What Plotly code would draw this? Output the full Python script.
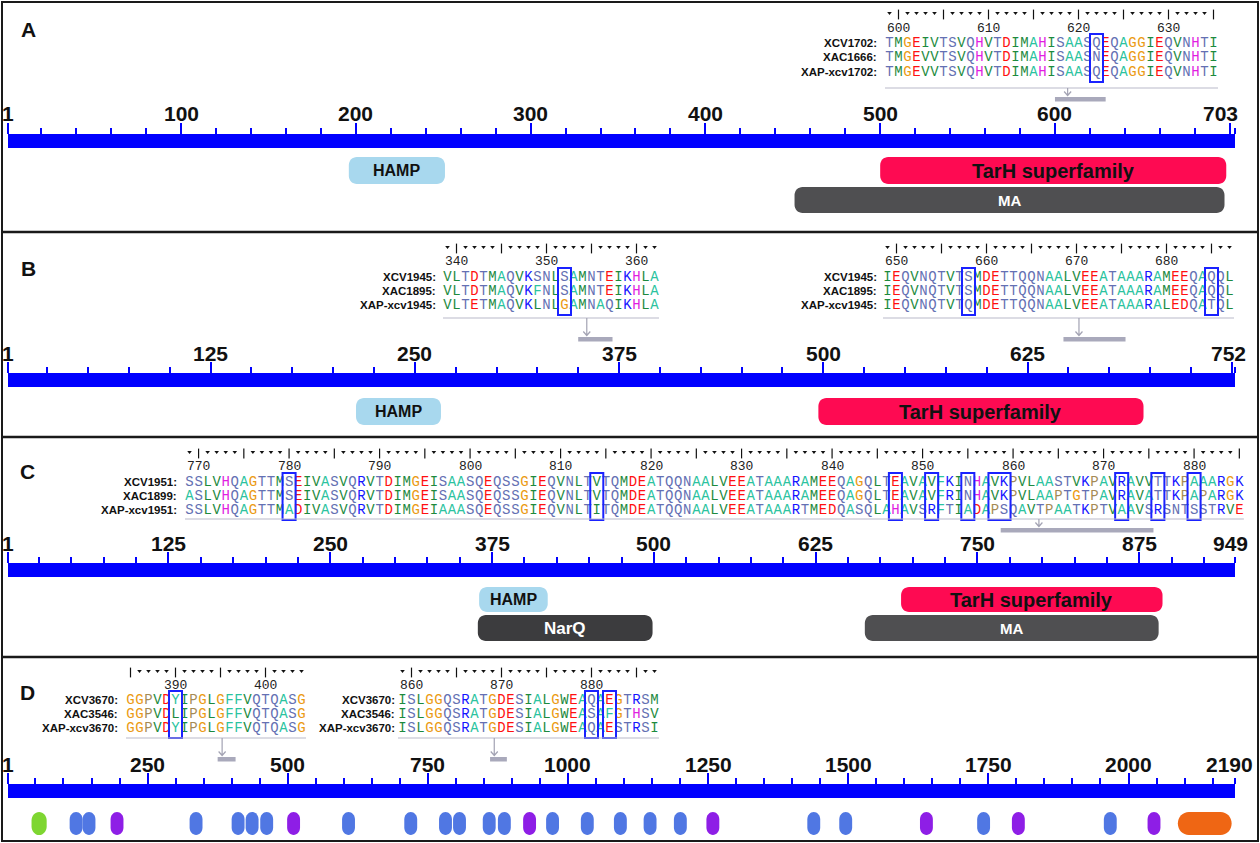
import plotly.graph_objects as go

W, H = 1260, 843

# ======================= DATA =======================
# ---- panel A ----
A_len = 703
A_tick_labels = [1, 100, 200, 300, 400, 500, 600, 703]
A_minor_step = 20
A_dom_names = ["HAMP", "TarH superfamily", "MA"]
A_dom_start = [196, 500, 451]
A_dom_end = [251, 698, 697]
A_seq_names = ["XCV1702:", "XAC1666:", "XAP-xcv1702:"]
A_aln_starts = [600]
A_aln_seqs = [["TMGEIVTSVQHVTDIMAHISAASQEQAGGIEQVNHTI",
               "TMGEVVTSVQHVTDIMAHISAASNEQAGGIEQVNHTI",
               "TMGEVVTSVQHVTDIMAHISAASQEQAGGIEQVNHTI"]]
A_aln_marked = [[(623, 623)]]
A_aln_regions = [(600, 629)]

# ---- panel B ----
B_len = 752
B_tick_labels = [1, 125, 250, 375, 500, 625, 752]
B_minor_step = 25
B_dom_names = ["HAMP", "TarH superfamily"]
B_dom_start = [214, 497]
B_dom_end = [266, 696]
B_seq_names = ["XCV1945:", "XAC1895:", "XAP-xcv1945:"]
B_aln_starts = [340, 650]
B_aln_seqs = [["VLTDTMAQVKSNLSAMNTEIKHLA",
               "VLTDTMAQVKFNLSAMNTEIKHLA",
               "VLTETMAQVKLNLGAMNAQIKHLA"],
              ["IEQVNQTVTSMDETTQQNAALVEEATAAARAMEEQAQQL",
               "IEQVNQTVTSMDETTQQNAALVEEATAAARAMEEQAQQL",
               "IEQVNQTVTQMDETTQQNAALVEEATAAARALEDQATQL"]]
B_aln_marked = [[(353, 353)], [(659, 659), (686, 686)]]
B_aln_regions = [(350, 371), (647, 685)]

# ---- panel C ----
C_len = 949
C_tick_labels = [1, 125, 250, 375, 500, 625, 750, 875, 949]
C_minor_step = 25
C_dom_names = ["HAMP", "TarH superfamily", "NarQ", "MA"]
C_dom_start = [365, 691, 364, 663]
C_dom_end = [418, 893, 499, 890]
C_seq_names = ["XCV1951:", "XAC1899:", "XAP-xcv1951:"]
C_aln_starts = [770]
C_aln_seqs = [["SSLVHQAGTTMSEIVASVQRVTDIMGEISAASQEQSSGIEQVNLTVTQMDEATQQNAALVEEATAAARAMEEQAGQLTEAVAVFKINHAVKPVLAASTVKPAVRAVVTTKPAAARGK",
               "ASLVHQAGTTMSEIVASVQRVTDIMGEISAASQEQSSGIEQVNLTVTQMDEATQQNAALVEEATAAARAMEEQAGQLTEAVAVFRINHAVKPVLAAPTGTPAVRAVATTKPAPARGK",
               "SSLVHQAGTTMADIVASVQRVTDIMGEIAAASQEQSSGIEQVNLTITQMDEATQQNAALVEEATAAARTMEDQASQLAHAVSRFTIADAPSQAVTPAATKPTVAAVSRSNTSSTRVE"]]
C_aln_marked = [[(781, 781), (815, 815), (848, 848), (852, 852), (856, 856),
                 (859, 860), (873, 873), (877, 877), (881, 881)]]
C_aln_regions = [(768, 886)]

# ---- panel D ----
D_len = 2190
D_tick_labels = [1, 250, 500, 750, 1000, 1250, 1500, 1750, 2000, 2190]
D_minor_step = 50
D_dom_names = ["dom1", "dom2", "dom2", "dom3", "dom2", "dom2", "dom2", "dom2", "dom3",
               "dom2", "dom2", "dom2", "dom2", "dom2", "dom2", "dom3", "dom2", "dom2",
               "dom2", "dom2", "dom2", "dom3", "dom2", "dom2", "dom3", "dom2", "dom3",
               "dom2", "dom3", "dom4"]
D_dom_start = [43, 111, 134, 184, 325, 400, 425, 451, 499, 597, 708, 770, 795, 848, 875,
               920, 961, 1023, 1082, 1135, 1189, 1247, 1427, 1484, 1628, 1730, 1792,
               1956, 2034, 2088]
D_dom_end = [70, 134, 157, 207, 348, 423, 448, 474, 522, 620, 731, 793, 818, 871, 898,
             943, 984, 1046, 1105, 1158, 1212, 1270, 1450, 1507, 1651, 1753, 1815,
             1979, 2057, 2184]
D_seq_names = ["XCV3670:", "XAC3546:", "XAP-xcv3670:"]
D_aln_starts = [386, 860]
D_aln_seqs = [["GGPVDYIPGLGFFVQTQASG",
               "GGPVDLIPGLGFFVQTQASG",
               "GGPVDYIPGLGFFVQTQASG"],
              ["ISLGGQSRATGDESIALGWEAQAEGTRSM",
               "ISLGGQSRATGDESIALGWEASAFGTHSV",
               "ISLGGQSRATGDESIALGWEAQAESTRSI"]]
D_aln_marked = [[(391, 391)], [(881, 881), (883, 883)]]
D_aln_regions = [(375, 407), (861, 891)]

# ======================= STYLE / LAYOUT =======================
BAR_PX0, BAR_PX1 = 8, 1235
BAR_H = 14
BLUE = "#0000ff"
LABEL_FONT = "Liberation Sans, Arial, sans-serif"
MONO = "Liberation Mono, DejaVu Sans Mono, monospace"

AA_COLOR = {}
for c in "AFY":
    AA_COLOR[c] = "#2cc3a0"
for c in "ILMVW":
    AA_COLOR[c] = "#1d8a3e"
for c in "STNQ":
    AA_COLOR[c] = "#6470b3"
for c in "KR":
    AA_COLOR[c] = "#1414ff"
for c in "DE":
    AA_COLOR[c] = "#ff1010"
AA_COLOR["G"] = "#eb9a12"
AA_COLOR["H"] = "#e11ee1"
AA_COLOR["P"] = "#a58a55"
AA_COLOR["C"] = "#e07070"

DOM_STYLE = {  # fill, text colour, font size, lane
    "HAMP": ("#a8d8ee", "#111111", 16, 0),
    "TarH superfamily": ("#fe0a52", "#111111", 20, 0),
    "MA": ("#4f4f51", "#ffffff", 15, 1),
    "NarQ": ("#3c3c3e", "#ffffff", 17, 1),
    "dom1": ("#7ed631", None, 0, 0),
    "dom2": ("#5077e3", None, 0, 0),
    "dom3": ("#8e1ee6", None, 0, 0),
    "dom4": ("#ef6614", None, 0, 0),
}

panels = [
    dict(letter="A", length=A_len, ticks=A_tick_labels, minor=A_minor_step,
         dnames=A_dom_names, dstart=A_dom_start, dend=A_dom_end,
         snames=A_seq_names, astarts=A_aln_starts, aseqs=A_aln_seqs,
         amarked=A_aln_marked, aregions=A_aln_regions,
         letter_xy=(28, 29), bar_top=134, label_y=113,
         lanes=[(157, 184), (187, 213)], last_shift=5,
         aln_x0=[885], aln_lab_r=[879], rows=[43, 57, 72], ruler_y=14,
         num_y=28, line_y=88, gbar_y=97, cw=9.0),
    dict(letter="B", length=B_len, ticks=B_tick_labels, minor=B_minor_step,
         dnames=B_dom_names, dstart=B_dom_start, dend=B_dom_end,
         snames=B_seq_names, astarts=B_aln_starts, aseqs=B_aln_seqs,
         amarked=B_aln_marked, aregions=B_aln_regions,
         letter_xy=(28, 268), bar_top=373, label_y=353,
         lanes=[(398, 425)], last_shift=13,
         aln_x0=[443, 883], aln_lab_r=[438, 879], rows=[277, 291, 305], ruler_y=248,
         num_y=261, line_y=318, gbar_y=337, cw=9.0),
    dict(letter="C", length=C_len, ticks=C_tick_labels, minor=C_minor_step,
         dnames=C_dom_names, dstart=C_dom_start, dend=C_dom_end,
         snames=C_seq_names, astarts=C_aln_starts, aseqs=C_aln_seqs,
         amarked=C_aln_marked, aregions=C_aln_regions,
         letter_xy=(27, 471), bar_top=563, label_y=543,
         lanes=[(587, 612), (615, 641)], last_shift=15,
         aln_x0=[185], aln_lab_r=[179], rows=[482, 496, 510], ruler_y=453,
         num_y=466, line_y=519, gbar_y=528, cw=9.05),
    dict(letter="D", length=D_len, ticks=D_tick_labels, minor=D_minor_step,
         dnames=D_dom_names, dstart=D_dom_start, dend=D_dom_end,
         snames=D_seq_names, astarts=D_aln_starts, aseqs=D_aln_seqs,
         amarked=D_aln_marked, aregions=D_aln_regions,
         letter_xy=(27, 692), bar_top=784, label_y=764,
         lanes=[(812, 835)], last_shift=20,
         aln_x0=[126, 398], aln_lab_r=[120, 397], rows=[700, 714, 728], ruler_y=672,
         num_y=685, line_y=738, gbar_y=757, cw=9.0),
]


def rounded_path(x0, x1, y0, y1, rx, ry):
    k = 0.5523
    return (f"M{x0 + rx},{y0} L{x1 - rx},{y0} "
            f"C{x1 - rx + k * rx},{y0} {x1},{y0 + ry - k * ry} {x1},{y0 + ry} "
            f"L{x1},{y1 - ry} "
            f"C{x1},{y1 - ry + k * ry} {x1 - rx + k * rx},{y1} {x1 - rx},{y1} "
            f"L{x0 + rx},{y1} "
            f"C{x0 + rx - k * rx},{y1} {x0},{y1 - ry + k * ry} {x0},{y1 - ry} "
            f"L{x0},{y0 + ry} "
            f"C{x0},{y0 + ry - k * ry} {x0 + rx - k * rx},{y0} {x0 + rx},{y0} Z")


fig = go.Figure()
shapes = []
annotations = []
layout_axes = {}

PIX = "x5"  # pixel layout axis

for i, p in enumerate(panels):
    axkey = "xaxis" if i == 0 else f"xaxis{i + 1}"
    xref = "x" if i == 0 else f"x{i + 1}"
    N = p["length"]
    ppr = (BAR_PX1 - BAR_PX0) / (N - 1)  # pixels per residue
    step_major = p["ticks"][1]
    majors = [1] + list(range(step_major, N, step_major))
    minors = [v for v in range(p["minor"], N, p["minor"]) if v % step_major != 0] + [N]
    top = p["bar_top"]
    layout_axes[axkey] = dict(
        domain=[BAR_PX0 / W, BAR_PX1 / W], range=[1, N], anchor="free",
        position=1 - top / H, side="top", showgrid=False, zeroline=False,
        showline=False, showticklabels=False, ticks="outside", tickmode="array",
        tickvals=majors, ticklen=11, tickwidth=2, tickcolor=BLUE, fixedrange=True,
        minor=dict(tickmode="array", tickvals=minors, ticks="outside", ticklen=6,
                   tickwidth=2, tickcolor=BLUE, showgrid=False))

    # blue protein bar
    fig.add_trace(go.Scatter(
        x=[1, N, N, 1, 1], y=[top, top, top + BAR_H, top + BAR_H, top],
        mode="lines", fill="toself", fillcolor=BLUE, line=dict(width=0, color=BLUE),
        xaxis=xref, yaxis="y", hoverinfo="skip", showlegend=False))

    # axis numbers
    for j, v in enumerate(p["ticks"]):
        last = j == len(p["ticks"]) - 1
        annotations.append(dict(
            x=v, xref=xref, y=p["label_y"], yref="y", text=f"<b>{v}</b>",
            showarrow=False, xanchor="right" if last else "center", yanchor="middle",
            xshift=p["last_shift"] if last else 0,
            font=dict(family=LABEL_FONT, size=21, color="#111111")))

    # domains
    for name, s, e in zip(p["dnames"], p["dstart"], p["dend"]):
        fill, tcol, fsize, lane = DOM_STYLE[name]
        y0, y1 = p["lanes"][lane]
        if tcol is None:
            wpx = (e - s) * ppr
            rpx = min(wpx / 2, 11)
            ry = min(rpx + 1, (y1 - y0) / 2)
        else:
            rpx, ry = 8, 8
        rx = rpx / ppr
        shapes.append(dict(type="path", xref=xref, yref="y",
                           path=rounded_path(s, e, y0, y1, rx, ry),
                           fillcolor=fill, line=dict(width=0), layer="above"))
        if tcol is not None:
            annotations.append(dict(
                x=(s + e) / 2, xref=xref, y=(y0 + y1) / 2, yref="y",
                text=f"<b>{name}</b>", showarrow=False, xanchor="center",
                yanchor="middle", font=dict(family=LABEL_FONT, size=fsize, color=tcol)))

    # panel letter
    lx, ly = p["letter_xy"]
    annotations.append(dict(x=lx, xref=PIX, y=ly, yref="y", text=f"<b>{p['letter']}</b>",
                            showarrow=False, xanchor="center", yanchor="middle",
                            font=dict(family=LABEL_FONT, size=21, color="#111111")))

    # alignments
    cw = p["cw"]
    for a, start in enumerate(p["astarts"]):
        seqs = p["aseqs"][a]
        x0 = p["aln_x0"][a]
        n = len(seqs[0])
        for r, seq in enumerate(seqs):
            yy = p["rows"][r]
            annotations.append(dict(
                x=p["aln_lab_r"][a], xref=PIX, y=yy, yref="y",
                text=f"<b>{p['snames'][r]}</b>", showarrow=False, xanchor="right",
                yanchor="middle", font=dict(family=LABEL_FONT, size=11.5, color="#111111")))
            fig.add_trace(go.Scatter(
                x=[x0 + cw * (k + 0.5) for k in range(len(seq))], y=[yy] * len(seq),
                mode="text", text=list(seq),
                textfont=dict(family=MONO, size=14, color=[AA_COLOR.get(ch, "#444") for ch in seq]),
                textposition="middle center", xaxis=PIX, yaxis="y",
                hoverinfo="skip", showlegend=False))
        big = [k for k in range(n) if (start + k) % 5 == 1]
        small = [k for k in range(n) if (start + k) % 5 != 1]
        fig.add_trace(go.Scatter(
            x=[x0 + cw * (k + 0.5) for k in big], y=[p["ruler_y"] + 0.5] * len(big),
            mode="markers", marker=dict(symbol="line-ns", size=7,
                                        line=dict(width=1.2, color="#111111")),
            xaxis=PIX, yaxis="y", hoverinfo="skip", showlegend=False))
        fig.add_trace(go.Scatter(
            x=[x0 + cw * (k + 0.5) for k in small], y=[p["ruler_y"] - 1] * len(small),
            mode="markers", marker=dict(symbol="triangle-down", size=4, color="#111111",
                                        line=dict(width=0)),
            xaxis=PIX, yaxis="y", hoverinfo="skip", showlegend=False))
        for k in range(n):
            if (start + k) % 10 == 0:
                annotations.append(dict(
                    x=x0 + cw * k, xref=PIX, y=p["num_y"], yref="y", text=str(start + k),
                    showarrow=False, xanchor="left", yanchor="middle",
                    font=dict(family=MONO, size=13, color="#222222")))
        for (m0, m1) in p["amarked"][a]:
            shapes.append(dict(
                type="rect", xref=PIX, yref="y",
                x0=x0 + cw * (m0 - start) - 2, x1=x0 + cw * (m1 - start + 1) + 2,
                y0=p["rows"][0] - 9, y1=p["rows"][-1] + 10,
                line=dict(color="#1a22ff", width=2), fillcolor="rgba(0,0,0,0)",
                layer="above"))
        shapes.append(dict(type="line", xref=PIX, yref="y", x0=x0, x1=x0 + cw * n,
                           y0=p["line_y"], y1=p["line_y"],
                           line=dict(color="#b9b9c9", width=1.2)))
        rs, re_ = p["aregions"][a]
        gy = p["gbar_y"]
        shapes.append(dict(type="rect", xref=xref, yref="y", x0=rs, x1=re_,
                           y0=gy, y1=gy + 4.5, fillcolor="#a9a9bb", line=dict(width=0)))
        xa = rs + 0.25 * (re_ - rs)
        dx = 3.5 / ppr
        y_end = gy - 1.5
        shapes.append(dict(type="path", xref=xref, yref="y",
                           path=(f"M{xa},{p['line_y']} L{xa},{y_end} "
                                 f"M{xa - dx},{y_end - 4} L{xa},{y_end} L{xa + dx},{y_end - 4}"),
                           line=dict(color="#a3a3b3", width=1.2)))

# panel frames
shapes.append(dict(type="rect", xref=PIX, yref="y", x0=2, x1=1258, y0=2, y1=841,
                   line=dict(color="#1a1a1a", width=2), fillcolor="rgba(0,0,0,0)"))
for ysep in [232, 437, 657]:
    shapes.append(dict(type="line", xref=PIX, yref="y", x0=2, x1=1258, y0=ysep, y1=ysep,
                       line=dict(color="#1a1a1a", width=2.5)))

fig.update_layout(
    width=W, height=H, margin=dict(l=0, r=0, t=0, b=0),
    paper_bgcolor="white", plot_bgcolor="rgba(0,0,0,0)",
    showlegend=False, shapes=shapes, annotations=annotations,
    xaxis5=dict(domain=[0, 1], range=[0, W], visible=False, fixedrange=True, anchor="y"),
    yaxis=dict(domain=[0, 1], range=[H, 0], visible=False, fixedrange=True, anchor="x5"),
    **layout_axes)

fig.write_html("out.html", config={"displayModeBar": False},
               post_script="document.body.style.margin='0';document.body.style.overflow='hidden';")
